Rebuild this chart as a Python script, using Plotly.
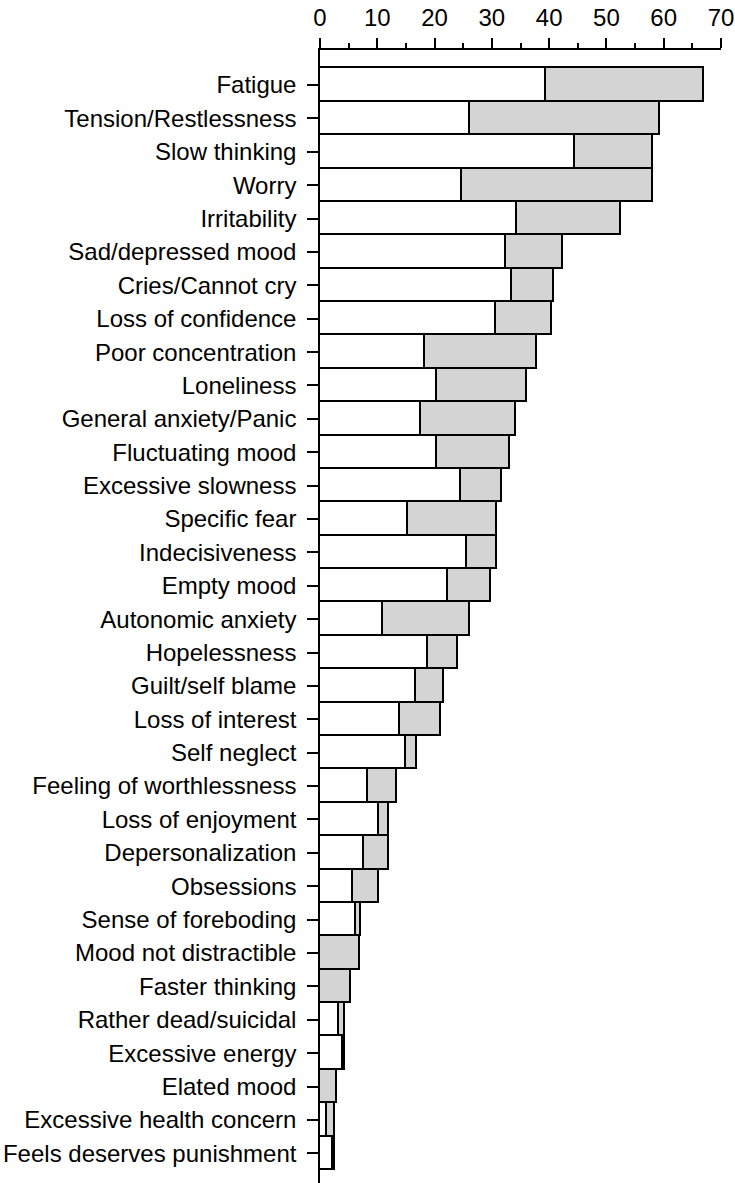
import plotly.graph_objects as go

categories = [
    "Fatigue", "Tension/Restlessness", "Slow thinking", "Worry", "Irritability",
    "Sad/depressed mood", "Cries/Cannot cry", "Loss of confidence", "Poor concentration",
    "Loneliness", "General anxiety/Panic", "Fluctuating mood", "Excessive slowness",
    "Specific fear", "Indecisiveness", "Empty mood", "Autonomic anxiety", "Hopelessness",
    "Guilt/self blame", "Loss of interest", "Self neglect", "Feeling of worthlessness",
    "Loss of enjoyment", "Depersonalization", "Obsessions", "Sense of foreboding",
    "Mood not distractible", "Faster thinking", "Rather dead/suicidal", "Excessive energy",
    "Elated mood", "Excessive health concern", "Feels deserves punishment",
]

white_values = [
    39.4, 26.2, 44.5, 24.8, 34.4,
    32.5, 33.6, 30.7, 18.3,
    20.5, 17.6, 20.5, 24.6,
    15.3, 25.7, 22.3, 11.0, 18.9,
    16.8, 14.0, 15.0, 8.3,
    10.3, 7.7, 5.8, 6.2,
    0.0, 0.0, 3.3, 4.0,
    0.0, 1.3, 2.3,
]

total_values = [
    67.1, 59.4, 58.1, 58.2, 52.6,
    42.5, 40.8, 40.5, 37.9,
    36.1, 34.2, 33.1, 31.7,
    30.9, 30.9, 29.8, 26.1, 24.1,
    21.6, 21.1, 16.9, 13.4,
    12.1, 12.1, 10.3, 7.1,
    6.9, 5.4, 4.4, 4.4,
    3.0, 2.7, 2.7,
]

gray_values = [round(t - w, 2) for t, w in zip(total_values, white_values)]

x_ticks = [0, 10, 20, 30, 40, 50, 60, 70]

fig = go.Figure()
fig.add_trace(go.Bar(
    y=categories, x=white_values, orientation="h", name="white",
    marker=dict(color="white", line=dict(color="black", width=1.8)),
))
fig.add_trace(go.Bar(
    y=categories, x=gray_values, orientation="h", name="gray",
    marker=dict(color="#d4d4d4", line=dict(color="black", width=1.8)),
))

font_family = "Liberation Sans, Arial, sans-serif"

fig.update_layout(
    barmode="stack",
    bargap=0,
    width=735,
    height=1183,
    margin=dict(l=320, r=14, t=50, b=0),
    plot_bgcolor="white",
    paper_bgcolor="white",
    showlegend=False,
    font=dict(family=font_family, size=24, color="black"),
    xaxis=dict(
        side="top",
        range=[0, 70],
        tickvals=x_ticks,
        ticktext=[str(v) for v in x_ticks],
        showline=True, linecolor="black", linewidth=1.5,
        ticks="outside", ticklen=10, tickwidth=1.5, tickcolor="black",
        minor=dict(dtick=5, tick0=0, ticks="outside", ticklen=5, tickwidth=1.5, tickcolor="black"),
        showgrid=False, zeroline=False,
        tickfont=dict(size=24, family=font_family, color="black"),
        ticklabelstandoff=3,
        automargin=False,
    ),
    yaxis=dict(
        type="category",
        categoryorder="array",
        categoryarray=categories,
        range=[32.89, -1.05],
        showline=True, linecolor="black", linewidth=1.5,
        ticks="outside", ticklen=11, tickwidth=1.5, tickcolor="black",
        showgrid=False, zeroline=False,
        tickfont=dict(size=24, family=font_family, color="black"),
        ticklabelstandoff=6,
        automargin=False,
    ),
)

fig.write_html(
    "out.html",
    config={"displayModeBar": False},
    post_script="document.body.style.margin='0';document.body.style.overflow='hidden';",
)
